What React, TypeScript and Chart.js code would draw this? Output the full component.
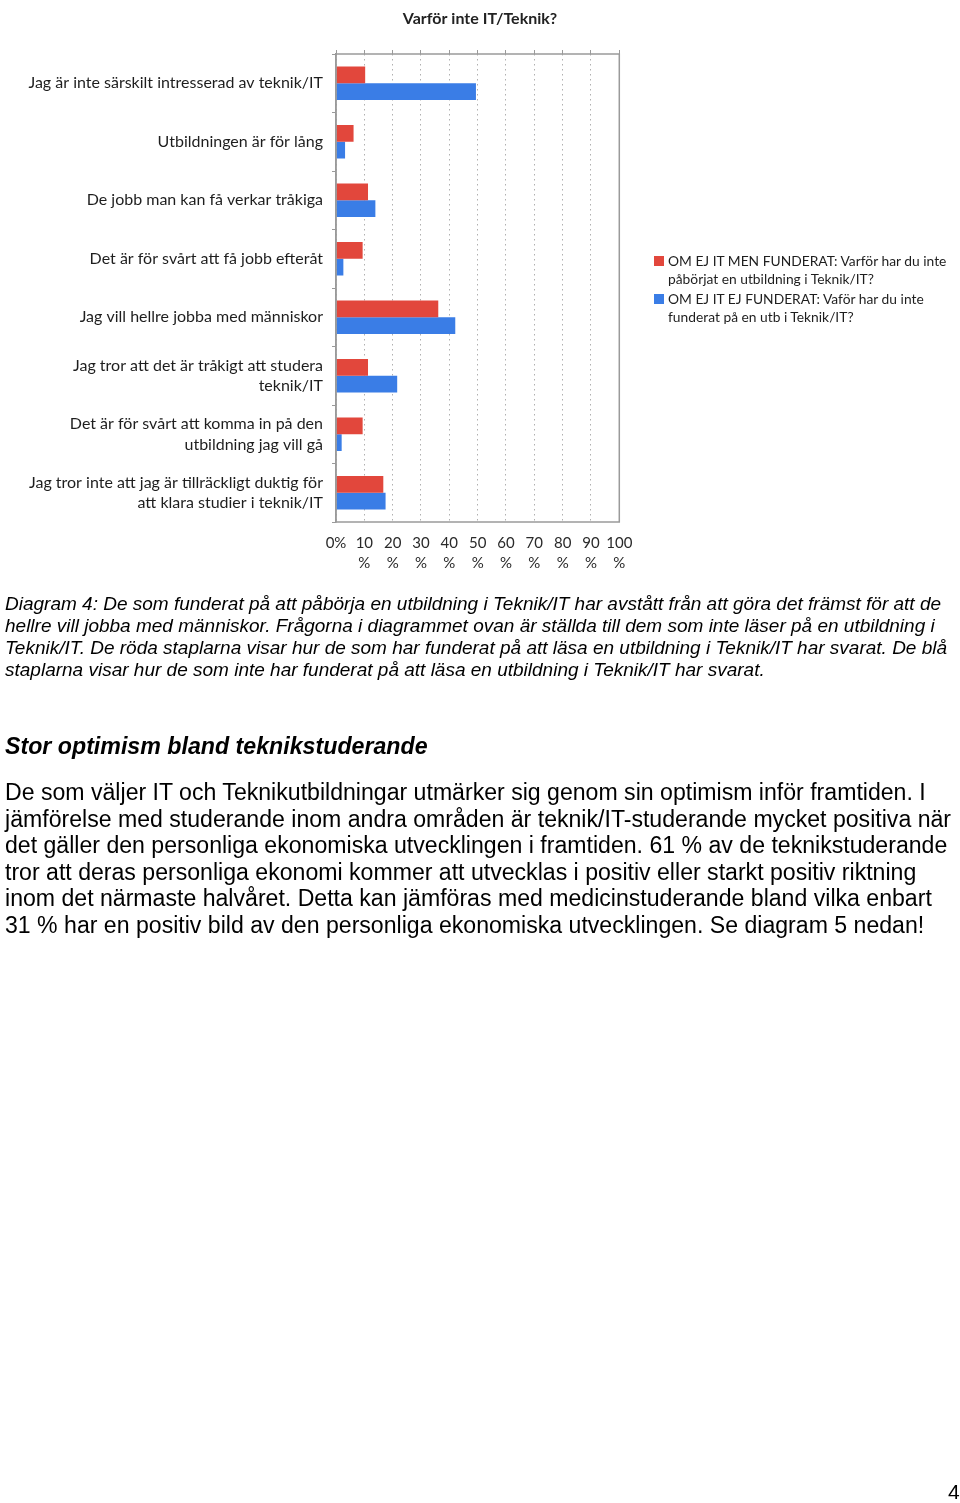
import React, { useEffect, useRef } from "react";
import { Chart, registerables } from "chart.js";

Chart.register(...registerables);

const categories: (string | string[])[] = [
  "Jag är inte särskilt intresserad av teknik/IT",
  "Utbildningen är för lång",
  "De jobb man kan få verkar tråkiga",
  "Det är för svårt att få jobb efteråt",
  "Jag vill hellre jobba med människor",
  ["Jag tror att det är tråkigt att studera", "teknik/IT"],
  ["Det är för svårt att komma in på den", "utbildning jag vill gå"],
  ["Jag tror inte att jag är tillräckligt duktig för", "att klara studier i teknik/IT"],
];

const redValues = [10.3, 6.2, 11.3, 9.4, 36.1, 11.3, 9.4, 16.7];
const blueValues = [49.4, 3.2, 13.9, 2.6, 42.1, 21.6, 2.0, 17.5];

const redLabel = ["OM EJ IT MEN FUNDERAT: Varför har du inte", "påbörjat en utbildning i Teknik/IT?"];
const blueLabel = ["OM EJ IT EJ FUNDERAT: Vaför har du inte", "funderat på en utb i Teknik/IT?"];

const tickLabels: (string | string[])[] = [
  "0%", ["10", "%"], ["20", "%"], ["30", "%"], ["40", "%"], ["50", "%"],
  ["60", "%"], ["70", "%"], ["80", "%"], ["90", "%"], ["100", "%"],
];

const RED = "#e2473c";
const BLUE = "#3a7de6";
const CHART_FONT = "Lato, 'Noto Sans', sans-serif";
const TEXT_FONT = "'Liberation Sans', Arial, sans-serif";

const borderPlugin = {
  id: "plotBorder",
  afterDatasetsDraw(chart: any) {
    const { ctx, chartArea } = chart;
    ctx.save();
    ctx.strokeStyle = "#9a9a9a";
    ctx.lineWidth = 1.5;
    ctx.strokeRect(chartArea.left, chartArea.top, chartArea.right - chartArea.left, chartArea.bottom - chartArea.top);
    ctx.restore();
  },
};

function BarChart() {
  const ref = useRef<HTMLCanvasElement | null>(null);
  useEffect(() => {
    if (!ref.current) return;
    const chart = new Chart(ref.current, {
      type: "bar",
      data: {
        labels: categories,
        datasets: [
          { label: redLabel.join(" "), data: redValues, backgroundColor: RED, borderWidth: 0 },
          { label: blueLabel.join(" "), data: blueValues, backgroundColor: BLUE, borderWidth: 0 },
        ],
      },
      plugins: [borderPlugin],
      options: {
        indexAxis: "y",
        animation: false,
        responsive: false,
        maintainAspectRatio: false,
        datasets: { bar: { categoryPercentage: 0.57, barPercentage: 1 } },
        layout: { padding: 0 },
        plugins: {
          legend: { display: false },
          tooltip: { enabled: false },
          title: {
            display: true,
            text: "Varför inte IT/Teknik?",
            color: "#222",
            font: { family: CHART_FONT, size: 16, weight: "bold", lineHeight: 1.2 },
            padding: { top: 1, bottom: 21.8 },
          },
        },
        scales: {
          x: {
            type: "linear",
            position: "bottom",
            min: 0,
            max: 100,
            afterFit: (s: any) => { s.height = 66; },
            grid: { drawTicks: false, color: "#b0b0b0", lineWidth: 1 },
            border: { display: false, dash: [1.5, 3.5] },
            ticks: {
              stepSize: 10,
              padding: 11.5,
              color: "#2a2a2a",
              font: { family: CHART_FONT, size: 15, lineHeight: 1.3 },
              callback: (_v: any, i: number) => tickLabels[i],
              maxRotation: 0,
              autoSkip: false,
            },
          },
          x2: {
            type: "linear",
            position: "top",
            min: 0,
            max: 100,
            afterFit: (s: any) => { s.height = 4; },
            grid: { drawOnChartArea: false, drawTicks: true, tickLength: 4, color: "#9a9a9a" },
            border: { display: false },
            ticks: { display: false, stepSize: 10 },
          },
          y: {
            type: "category",
            afterFit: (s: any) => { s.width = 328; },
            grid: { drawOnChartArea: false, drawTicks: true, tickLength: 4, color: "#9a9a9a", offset: true },
            border: { display: true, color: "#9a9a9a", width: 1.5 },
            ticks: {
              padding: 9,
              color: "#1e1e1e",
              font: { family: CHART_FONT, size: 16, lineHeight: 1.3 },
              autoSkip: false,
            },
          },
          yRight: {
            type: "category",
            position: "right",
            afterFit: (s: any) => { s.width = 332.7; },
            grid: { display: false },
            border: { display: false },
            ticks: { display: false },
          },
        },
      } as any,
    });
    return () => chart.destroy();
  }, []);
  return <canvas ref={ref} width={944} height={580} style={{ display: "block", width: 944, height: 580 }} />;
}

function Legend() {
  const item = (color: string, lines: string[], top: number) => (
    <div style={{ position: "fixed", left: 654, top, fontFamily: CHART_FONT, fontSize: 13.8, lineHeight: "18px", color: "#1e1e1e" }}>
      <span style={{ position: "absolute", left: 0, top: 4, width: 10, height: 10, background: color }} />
      <div style={{ marginLeft: 14, whiteSpace: "nowrap" }}>
        {lines.map((l, i) => (<div key={i}>{l}</div>))}
      </div>
    </div>
  );
  return (
    <>
      {item(RED, redLabel, 252)}
      {item(BLUE, blueLabel, 290)}
    </>
  );
}

const captionLines = [
  "Diagram 4: De som funderat på att påbörja en utbildning i Teknik/IT har avstått från att göra det främst för att de",
  "hellre vill jobba med människor. Frågorna i diagrammet ovan är ställda till dem som inte läser på en utbildning i",
  "Teknik/IT. De röda staplarna visar hur de som har funderat på att läsa en utbildning i Teknik/IT har svarat. De blå",
  "staplarna visar hur de som inte har funderat på att läsa en utbildning i Teknik/IT har svarat.",
];

const paragraphLines = [
  "De som väljer IT och Teknikutbildningar utmärker sig genom sin optimism inför framtiden. I",
  "jämförelse med studerande inom andra områden är teknik/IT-studerande mycket positiva när",
  "det gäller den personliga ekonomiska utvecklingen i framtiden. 61 % av de teknikstuderande",
  "tror att deras personliga ekonomi kommer att utvecklas i positiv eller starkt positiv riktning",
  "inom det närmaste halvåret. Detta kan jämföras med medicinstuderande bland vilka enbart",
  "31 % har en positiv bild av den personliga ekonomiska utvecklingen. Se diagram 5 nedan!",
];

export default function App() {
  return (
    <div style={{ width: 944, height: 1480 }}>
      <BarChart />
      <Legend />
      <div style={{ position: "fixed", left: 5, top: 593, fontFamily: TEXT_FONT, fontStyle: "italic", fontSize: 19, lineHeight: "22px", color: "#000", whiteSpace: "nowrap" }}>
        {captionLines.map((l, i) => (<div key={i}>{l}</div>))}
      </div>
      <div style={{ position: "fixed", left: 5, top: 733, fontFamily: TEXT_FONT, fontStyle: "italic", fontWeight: "bold", fontSize: 23.2, lineHeight: "26px", color: "#000", whiteSpace: "nowrap" }}>
        Stor optimism bland teknikstuderande
      </div>
      <div style={{ position: "fixed", left: 5, top: 779, fontFamily: TEXT_FONT, fontSize: 23.1, lineHeight: "26.6px", color: "#000", whiteSpace: "nowrap" }}>
        {paragraphLines.map((l, i) => (<div key={i}>{l}</div>))}
      </div>
      <div style={{ position: "fixed", left: 948, top: 1481, fontFamily: TEXT_FONT, fontSize: 21, lineHeight: "22px", color: "#000" }}>4</div>
    </div>
  );
}
